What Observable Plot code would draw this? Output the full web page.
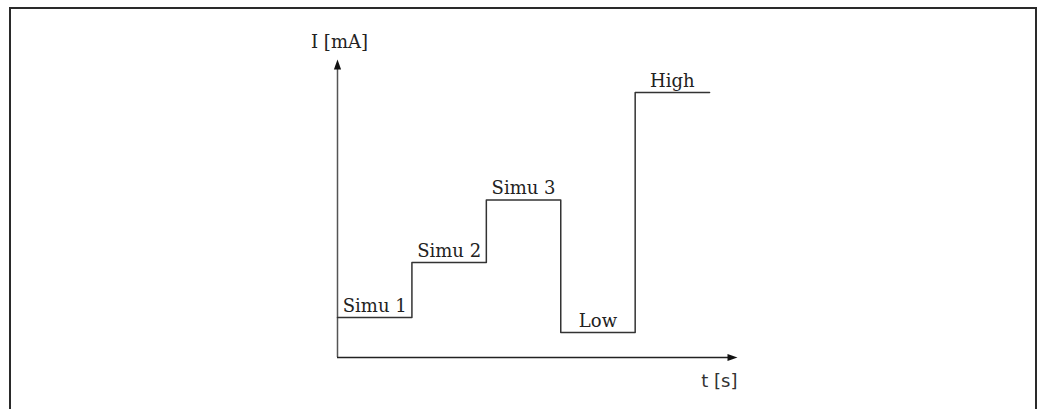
<!DOCTYPE html>
<html>
<head>
<meta charset="utf-8">
<script src="https://cdn.jsdelivr.net/npm/d3@7"></script>
<script src="https://cdn.jsdelivr.net/npm/@observablehq/plot@0.6"></script>
<style>
  html, body { margin: 0; padding: 0; background: #fff; overflow: hidden; }
  #wrap { position: relative; width: 1044px; height: 409px; }
  #wrap svg { position: absolute; left: 0; top: 0; background: transparent; }
  #frame { position: absolute; left: 9px; top: 7px; width: 1024px; height: 500px;
           border: 2px solid #2a2a2a; border-bottom: none; pointer-events: none; }
</style>
</head>
<body>
<div id="wrap"><div id="frame"></div></div>
<script>
// Step signal: start time of each phase (s) and current level (mA, schematic)
const times  = [0, 1, 2, 3, 4, 5];
const levels = [3.2, 7.6, 12.6, 2.0, 21.2, 21.2];
const labels = ["Simu 1", "Simu 2", "Simu 3", "Low", "High"];
// Axis extents (arrow tips)
const tMax = 5.375;
const iMax = 23.84;
const axisTitles = { y: "I [mA]", x: "t [s]" };

const signal = times.map((t, i) => ({ t, I: levels[i] }));
const phaseLabels = labels.map((name, i) => ({ name, t: times[i] + 0.5, I: levels[i] }));

const arrowUp = { draw(ctx) { ctx.moveTo(0, 0); ctx.lineTo(3.6, 10); ctx.lineTo(-3.6, 10); ctx.closePath(); } };
const arrowRight = { draw(ctx) { ctx.moveTo(0, 0); ctx.lineTo(-10, 3.6); ctx.lineTo(-10, -3.6); ctx.closePath(); } };

const chart = Plot.plot({
  width: 1044,
  height: 409,
  marginLeft: 337,
  marginRight: 307,
  marginTop: 59,
  marginBottom: 52,
  x: { domain: [0, tMax], axis: null },
  y: { domain: [0, iMax], axis: null },
  style: { fontFamily: "'DejaVu Serif', serif", fontSize: "18px", color: "#222", background: "transparent" },
  marks: [
    // axes
    Plot.ruleX([0], { y1: 0, y2: iMax - 0.3, stroke: "#555", strokeWidth: 1.5 }),
    Plot.ruleY([0], { x1: 0, x2: tMax - 0.05, stroke: "#222", strokeWidth: 1.5 }),
    Plot.dot([{ t: 0, I: iMax }], { x: "t", y: "I", symbol: arrowUp, fill: "#111", stroke: "none" }),
    Plot.dot([{ t: tMax, I: 0 }], { x: "t", y: "I", symbol: arrowRight, fill: "#111", stroke: "none" }),
    // step signal
    Plot.line(signal, { x: "t", y: "I", curve: "step-after", stroke: "#333", strokeWidth: 1.5 }),
    // phase labels
    Plot.text(phaseLabels, { x: "t", y: "I", text: "name", lineAnchor: "bottom", dy: -6, fill: "#222" }),
    // axis titles
    Plot.text([axisTitles.y], { x: 0, y: iMax, dx: 2, dy: -12, lineAnchor: "bottom", fill: "#222" }),
    Plot.text([axisTitles.x], { x: tMax, y: 0, dy: 29, textAnchor: "end", lineAnchor: "bottom",
      fontFamily: "'DejaVu Sans', sans-serif", fill: "#333" })
  ]
});
document.getElementById("wrap").prepend(chart);
</script>
</body>
</html>
